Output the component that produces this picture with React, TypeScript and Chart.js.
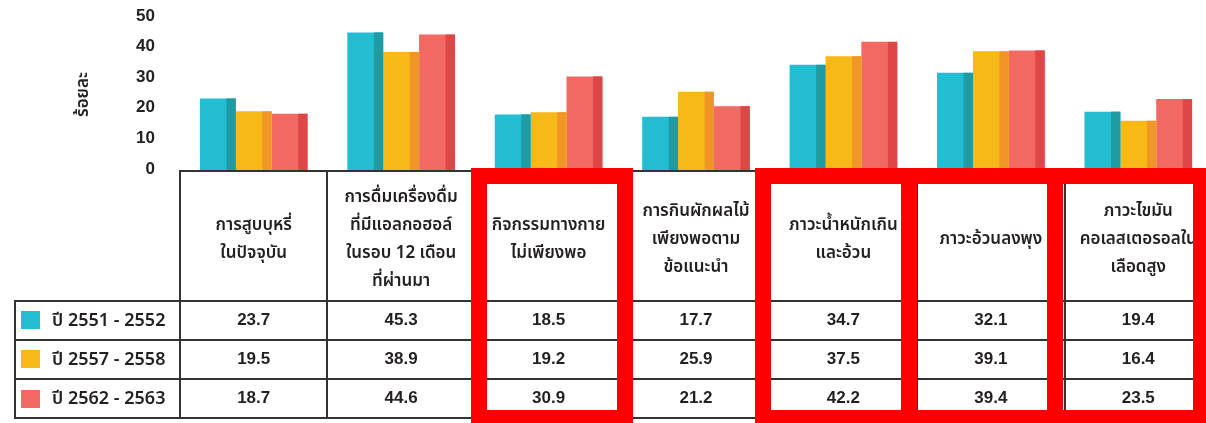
import React, { useEffect, useRef, useState } from 'react';
import { Chart, registerables } from 'chart.js';

Chart.register(...registerables);

// ---- data ----
const categories: string[][] = [
  ['การสูบบุหรี่', 'ในปัจจุบัน'],
  ['การดื่มเครื่องดื่ม', 'ที่มีแอลกอฮอล์', 'ในรอบ 12 เดือน', 'ที่ผ่านมา'],
  ['กิจกรรมทางกาย', 'ไม่เพียงพอ'],
  ['การกินผักผลไม้', 'เพียงพอตาม', 'ข้อแนะนำ'],
  ['ภาวะน้ำหนักเกิน', 'และอ้วน'],
  ['ภาวะอ้วนลงพุง'],
  ['ภาวะไขมัน', 'คอเลสเตอรอลใน', 'เลือดสูง'],
];
const seriesNames = ['ปี 2551 - 2552', 'ปี 2557 - 2558', 'ปี 2562 - 2563'];
const values2551 = [23.7, 45.3, 18.5, 17.7, 34.7, 32.1, 19.4];
const values2557 = [19.5, 38.9, 19.2, 25.9, 37.5, 39.1, 16.4];
const values2562 = [18.7, 44.6, 30.9, 21.2, 42.2, 39.4, 23.5];
const yTickValues = [0, 10, 20, 30, 40, 50];
const yTitle = 'ร้อยละ';
const highlightedCategories = [2, 4, 5, 6];

// ---- styling ----
const seriesValues = [values2551, values2557, values2562];
const mainColors = ['#22BDD0', '#F7B918', '#F26862'];
const darkColors = ['#1E9BA3', '#EF9624', '#DD4748'];
const frameShift: Record<number, number> = { 2: 3, 4: -7, 5: -8.5, 6: -10.5 };
const LINE = '#333333';
const TEXT = '#231F20';
const THAI_FONT = '"Noto Sans Thai", "Noto Sans Thai UI", "Liberation Sans", "Noto Sans", sans-serif';
const NUM_FONT = '"Liberation Sans", Arial, sans-serif';

const TABLE_LEFT = 15;
const HEADER_BOTTOM = 300.5;
const ROW_H = 39.2;

type Col = { left: number; right: number; center: number };

const shadePlugin = {
  id: 'shade3d',
  afterDatasetsDraw(chart: any) {
    const ctx = chart.ctx;
    ctx.save();
    chart.data.datasets.forEach((_: any, di: number) => {
      const meta = chart.getDatasetMeta(di);
      meta.data.forEach((el: any) => {
        const { x, y, base, width } = el.getProps(['x', 'y', 'base', 'width'], true);
        const sw = width * 0.26;
        ctx.fillStyle = darkColors[di];
        ctx.fillRect(x + width / 2 - sw, y, sw, base - y);
      });
    });
    ctx.restore();
  },
};

export default function App() {
  const canvasRef = useRef<HTMLCanvasElement>(null);
  const [cols, setCols] = useState<Col[]>([]);
  const [axisBottom, setAxisBottom] = useState(171);

  useEffect(() => {
    document.body.style.margin = '0';
    const canvas = canvasRef.current;
    if (!canvas) return;
    const chart: any = new Chart(canvas, {
      type: 'bar',
      data: {
        labels: categories.map((c) => c.join(' ')),
        datasets: seriesNames.map((name, i) => ({
          label: name,
          data: seriesValues[i],
          backgroundColor: mainColors[i],
          borderWidth: 0,
          categoryPercentage: 0.73,
          barPercentage: 1,
        })),
      },
      options: {
        responsive: false,
        animation: false,
        devicePixelRatio: 1,
        layout: { padding: { top: 18, bottom: 252, left: 0, right: 0 } },
        plugins: { legend: { display: false }, tooltip: { enabled: false } },
        scales: {
          x: { display: false, offset: true },
          y: {
            min: 0,
            max: 50,
            afterBuildTicks: (scale: any) => {
              scale.ticks = yTickValues.map((v) => ({ value: v }));
            },
            afterFit: (scale: any) => {
              scale.width = 180;
            },
            grid: { display: false, drawTicks: true, tickLength: 25 },
            border: { display: false },
            ticks: {
              padding: 0,
              labelOffset: -2,
              color: '#222',
              font: { family: NUM_FONT, size: 17, weight: 'bold' },
            },
            title: {
              display: true,
              text: yTitle,
              color: '#222',
              padding: { top: 74, bottom: 0 },
              font: { family: THAI_FONT, size: 17, weight: '600' },
            },
          },
        },
      },
      plugins: [shadePlugin],
    } as any);

    const xs: any = chart.scales.x;
    const w = xs.getPixelForValue(1) - xs.getPixelForValue(0);
    setCols(
      categories.map((_, i) => {
        const c = xs.getPixelForValue(i);
        return { left: c - w / 2, right: c + w / 2, center: c };
      })
    );
    setAxisBottom(chart.chartArea.bottom);
    return () => chart.destroy();
  }, []);

  const lines: React.ReactNode[] = [];
  const hLine = (key: string, x1: number, x2: number, y: number) =>
    lines.push(
      <div key={key} style={{ position: 'absolute', left: x1, top: y - 1, width: x2 - x1, height: 2, background: LINE }} />
    );
  const vLine = (key: string, x: number, y1: number, y2: number) =>
    lines.push(
      <div key={key} style={{ position: 'absolute', left: x - 1, top: y1 - 1, width: 2, height: y2 - y1 + 2, background: LINE }} />
    );

  const tableBottom = HEADER_BOTTOM + ROW_H * seriesNames.length;
  if (cols.length) {
    const right = cols[cols.length - 1].right;
    hLine('top', cols[0].left, right, axisBottom);
    hLine('h0', TABLE_LEFT, right, HEADER_BOTTOM);
    seriesNames.forEach((_, j) => hLine('hr' + j, TABLE_LEFT, right, HEADER_BOTTOM + ROW_H * (j + 1)));
    vLine('vl', TABLE_LEFT, HEADER_BOTTOM, tableBottom);
    cols.forEach((c, i) => vLine('v' + i, c.left, axisBottom, tableBottom));
    vLine('vr', right, axisBottom, tableBottom);
  }

  return (
    <div style={{ position: 'relative', width: 1206, height: 423, overflow: 'hidden', background: '#fff' }}>
      <canvas ref={canvasRef} width={1212} height={423} style={{ position: 'absolute', left: 0, top: 0, width: 1212, height: 423 }} />
      {lines}
      {cols.map((c, i) => (
        <div
          key={'hd' + i}
          style={{
            position: 'absolute',
            left: c.left,
            width: c.right - c.left,
            top: axisBottom + 6,
            height: HEADER_BOTTOM - axisBottom - 6,
            display: 'flex',
            flexDirection: 'column',
            justifyContent: 'center',
            alignItems: 'center',
            fontFamily: THAI_FONT,
            fontSize: 17,
            lineHeight: '28px',
            color: TEXT,
            fontWeight: 600,
            textAlign: 'center',
            whiteSpace: 'nowrap',
          }}
        >
          {categories[i].map((ln, k) => (
            <div key={k}>{ln}</div>
          ))}
        </div>
      ))}
      {seriesNames.map((name, j) => {
        const top = HEADER_BOTTOM + ROW_H * j;
        return (
          <React.Fragment key={'row' + j}>
            <div
              style={{
                position: 'absolute',
                left: 21,
                top: top + ROW_H / 2 - 9,
                width: 19,
                height: 18,
                background: mainColors[j],
              }}
            />
            <div
              style={{
                position: 'absolute',
                left: 52,
                top,
                height: ROW_H,
                display: 'flex',
                alignItems: 'center',
                fontFamily: THAI_FONT,
                fontSize: 18,
                color: TEXT,
                fontWeight: 600,
                whiteSpace: 'nowrap',
              }}
            >
              {name}
            </div>
            {cols.map((c, i) => (
              <div
                key={'cell' + j + '-' + i}
                style={{
                  position: 'absolute',
                  left: c.left,
                  width: c.right - c.left,
                  top,
                  height: ROW_H,
                  display: 'flex',
                  alignItems: 'center',
                  justifyContent: 'center',
                  fontFamily: NUM_FONT,
                  fontSize: 17,
                  color: TEXT,
                  fontWeight: 600,
                }}
              >
                {seriesValues[j][i].toFixed(1)}
              </div>
            ))}
          </React.Fragment>
        );
      })}
      {cols.length > 0 &&
        highlightedCategories.map((i) => {
          const c = cols[i];
          const w = c.right - c.left + 14.5;
          const cx = c.center + (frameShift[i] || 0);
          return (
            <div
              key={'frame' + i}
              style={{
                position: 'absolute',
                left: cx - w / 2,
                width: w,
                top: 168,
                height: 258,
                border: '16px solid #FF0000',
                boxSizing: 'border-box',
              }}
            />
          );
        })}
    </div>
  );
}
